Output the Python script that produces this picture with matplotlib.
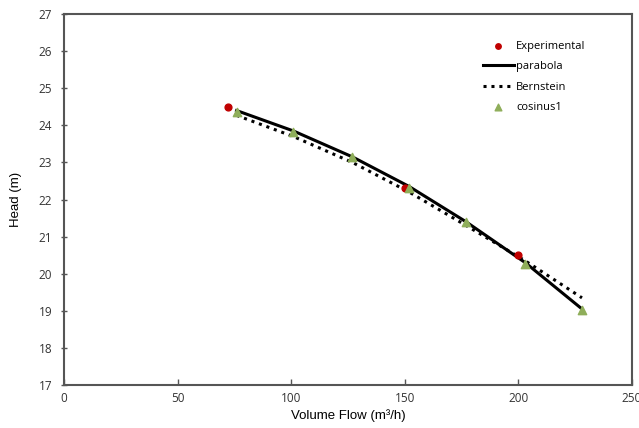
import matplotlib
matplotlib.use("Agg")
import matplotlib.pyplot as plt
import numpy as np

# data
exp_q = [72, 150, 200]
exp_h = [24.5, 22.3, 20.5]

fit_q = [76, 101, 127, 152, 177, 203, 228]
parabola_h = [24.4, 23.85, 23.15, 22.35, 21.4, 20.3, 19.05]
bernstein_h = [24.27, 23.7, 23.0, 22.2, 21.3, 20.35, 19.35]
cosinus_h = [24.36, 23.82, 23.15, 22.31, 21.39, 20.26, 19.02]

fig = plt.figure(figsize=(6.39, 4.28), dpi=100)
ax = fig.add_axes([0.100, 0.1005, 0.889, 0.8665])

ax.plot(fit_q, parabola_h, color="black", lw=2.2, label="parabola", zorder=2)
ax.plot(fit_q, bernstein_h, color="black", lw=2.2, ls=(0, (1, 1.6)), label="Bernstein", zorder=2)
ax.scatter(exp_q, exp_h, color="#c00000", s=24, label="Experimental", zorder=3)
ax.scatter(fit_q, cosinus_h, color="#8fae5a", marker="^", s=36, label="cosinus1", zorder=4)

ax.set_xlim(0, 250)
ax.set_ylim(17, 27)
ax.set_xticks(np.arange(0, 251, 50))
ax.set_yticks(np.arange(17, 28, 1))

for s in ax.spines.values():
    s.set_color("#555555")
    s.set_linewidth(1.5)
ax.tick_params(direction="inout", length=5, width=1, color="#555555",
               labelsize=8.5, labelcolor="#333333", pad=6)
ax.tick_params(axis="x", direction="in", length=4, pad=5)
for lab in ax.get_xticklabels() + ax.get_yticklabels():
    lab.set_family("Open Sans")

ax.set_xlabel("Volume Flow (m³/h)", fontsize=9.5, family="Liberation Sans", labelpad=3)
ax.set_ylabel("Head (m)", fontsize=9.5, family="Liberation Sans", labelpad=12)

handles, labels = ax.get_legend_handles_labels()
order = [2, 0, 1, 3]
ax.legend([handles[i] for i in order], [labels[i] for i in order],
          loc="upper left", bbox_to_anchor=(0.72, 0.955), frameon=False,
          prop={"family": "Open Sans", "size": 8}, handlelength=2.8,
          handletextpad=0.2, labelspacing=0.85, markerscale=0.8)

fig.savefig("out.png", dpi=100)
